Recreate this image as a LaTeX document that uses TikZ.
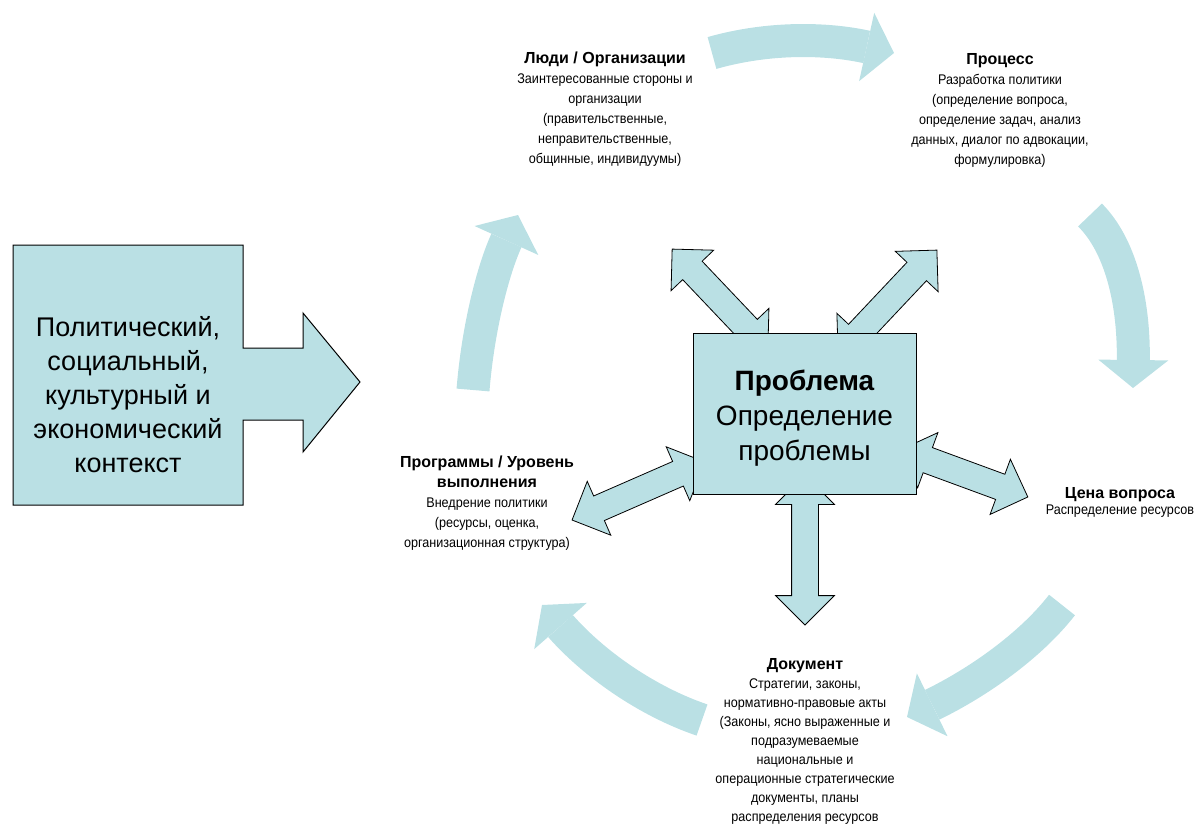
\documentclass[tikz,border=0pt]{standalone}
\usepackage{fontspec}
\setmainfont{Liberation Sans}
\newfontfamily\nrw[FakeStretch=0.9]{Liberation Sans}
\usepackage{tikz}
\definecolor{cc}{RGB}{186, 224, 228}
\usetikzlibrary{arrows.meta}
\usetikzlibrary{shapes.arrows}
\tikzset{
  dbl/.style={double arrow, draw=black, fill=cc, line width=0.8pt, inner sep=0pt, inner ysep=13pt, double arrow head extend=16pt},
  crv/.style={line width=33pt, color=cc, -{Triangle[length=28pt, width=70pt, line width=0pt]}},
  lbl/.style={align=center, inner sep=0pt, font=\nrw\fontsize{14}{20}\selectfont},
}
\newcommand\hd{\rmfamily\bfseries\fontsize{16}{20}\selectfont}

\begin{document}
\begin{tikzpicture}
\useasboundingbox (0pt,0pt) rectangle (1201pt,-830pt);
% cycle of curved arrows
\coordinate (c1) at (712pt,-53pt);
\coordinate (c2) at (894pt,-53pt);
\coordinate (c3) at (1090pt,-215pt);
\coordinate (c4) at (1133pt,-388pt);
\coordinate (c5) at (1062pt,-605pt);
\coordinate (c6) at (907pt,-717pt);
\coordinate (c7) at (702pt,-720pt);
\coordinate (c8) at (542pt,-605pt);
\coordinate (c9) at (473pt,-390pt);
\coordinate (c10) at (518pt,-215pt);
\draw [crv] (c1) .. controls (768pt,-37pt) and (826pt,-38pt) .. (c2);
\draw [crv] (c3) .. controls (1120pt,-245pt) and (1134pt,-300pt) .. (c4);
\draw [crv] (c5) .. controls (1031pt,-645pt) and (979pt,-682pt) .. (c6);
\draw [crv] (c7) .. controls (646pt,-701pt) and (593pt,-663pt) .. (c8);
\draw [crv] (c9) .. controls (478pt,-328pt) and (493pt,-270pt) .. (c10);
% double arrows round the problem box
\node (a1) [dbl, minimum height=139pt, rotate=133.5] at (720pt,-299.5pt) {};
\node (a2) [dbl, minimum height=144pt, rotate=46.7] at (887.5pt,-302.5pt) {};
\node (a3) [dbl, minimum height=145pt, rotate=23.6] at (638.5pt,-491pt) {};
\node (a4) [dbl, minimum height=136pt, rotate=-20.2] at (964pt,-473.5pt) {};
\node (a5) [dbl, minimum height=150pt, rotate=90] at (805pt,-550pt) {};
\node (prob) [draw=black, fill=cc, line width=1pt, minimum width=223pt, minimum height=161pt] at (804.5pt,-413.5pt) {};
\node (probt) [align=center, inner sep=0pt, font=\fontsize{28}{35}\selectfont] at (804.5pt,-418pt) {\textbf{Проблема}\\Определение\\проблемы};
% context box
\draw [fill=cc, line width=1pt] (13pt,-245pt) -- (243pt,-245pt) -- (243pt,-348pt) -- (303pt,-348pt) -- (303pt,-313pt) -- (360pt,-382pt) -- (303pt,-452pt) -- (303pt,-420pt) -- (243pt,-420pt) -- (243pt,-505pt) -- (13pt,-505pt) -- cycle;
\node (ctx) [align=center, inner sep=0pt, font=\fontsize{27}{34}\selectfont] at (128pt,-395pt) {Политический,\\социальный,\\культурный и\\экономический\\контекст};
% labels
\node (ppl) [lbl, anchor=north] at (605pt,-52pt) {{\hd Люди / Организации}\\Заинтересованные стороны и\\организации\\(правительственные,\\неправительственные,\\общинные, индивидуумы)};
\node (proc) [lbl, anchor=north] at (1000pt,-53pt) {{\hd Процесс}\\Разработка политики\\(определение вопроса,\\определение задач, анализ\\данных, диалог по адвокации,\\формулировка)};
\node (prog) [lbl, anchor=north] at (487pt,-456pt) {{\hd Программы / Уровень}\\{\hd выполнения}\\Внедрение политики\\(ресурсы, оценка,\\организационная структура)};
\node (cost) [lbl, anchor=north, font=\nrw\fontsize{14}{16}\selectfont] at (1120pt,-487pt) {{\hd Цена вопроса}\\Распределение ресурсов};
\node (doc) [lbl, anchor=north, font=\nrw\fontsize{14}{19}\selectfont] at (805pt,-658pt) {{\hd Документ}\\Стратегии, законы,\\нормативно-правовые акты\\(Законы, ясно выраженные и\\подразумеваемые\\национальные и\\операционные стратегические\\документы, планы\\распределения ресурсов};
\end{tikzpicture}
\end{document}
